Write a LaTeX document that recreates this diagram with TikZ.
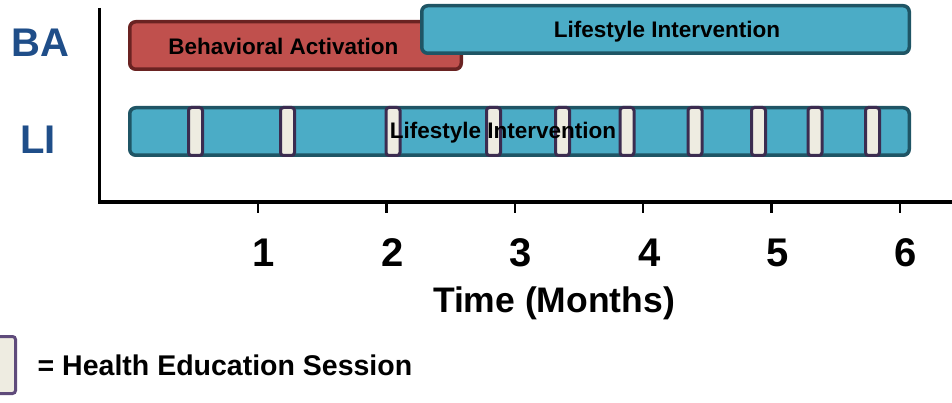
\documentclass[tikz,border=0pt]{standalone}
\usepackage{fontspec}
\setmainfont{Liberation Sans}
\definecolor{liblue}{HTML}{4BACC6}
\definecolor{libord}{HTML}{1F5565}
\definecolor{bared}{HTML}{C0504D}
\definecolor{babord}{HTML}{6A2322}
\definecolor{sessfill}{HTML}{EEECE1}
\definecolor{sessbord}{HTML}{3B2C50}
\definecolor{legbord}{HTML}{5F4B7B}
\definecolor{lblblue}{HTML}{1F4E89}
\begin{document}
\begin{tikzpicture}[x=1pt,y=-1pt,
  armbox/.style={draw, line width=3.5pt, rounded corners=6pt, inner sep=0pt, minimum height=47.5pt},
  libox/.style={armbox, draw=libord, fill=liblue},
  babox/.style={armbox, draw=babord, fill=bared},
  session/.style={draw=sessbord, fill=sessfill, line width=3pt, rounded corners=3pt, inner sep=0pt, minimum width=14pt, minimum height=48pt},
  boxtext/.style={font=\fontsize{22.5}{27}\selectfont\bfseries, inner sep=0pt, anchor=base},
  armlabel/.style={font=\fontsize{40}{48}\selectfont\bfseries, text=lblblue, inner sep=0pt, anchor=base},
  ticklabel/.style={font=\fontsize{40}{48}\selectfont\bfseries, inner sep=0pt, anchor=base},
  axistitle/.style={font=\fontsize{35.5}{42}\selectfont\bfseries, inner sep=0pt, anchor=base},
  legendtext/.style={font=\fontsize{28.5}{34}\selectfont\bfseries, inner sep=0pt, anchor=base west},
  axisline/.style={line width=3.5pt},
  tickmark/.style={line width=2.5pt}]
\useasboundingbox (0,0) rectangle (952,403);

% arm labels
\node[armlabel] (ba) at (40.5,56.5) {BA};
\node[armlabel] (li) at (38,153.3) {LI};

% axes
\coordinate (ytop) at (99.5,8);
\coordinate (xend) at (952,202);
\draw[axisline] (ytop) |- (xend);
\foreach \i in {1,...,6} {
  \coordinate (t\i) at ({258+128.4*(\i-1)},202);
  \draw[tickmark] (t\i) -- ++(0,11);
  \node[ticklabel] (l\i) at ({264+128.4*(\i-1)},266.5) {\i};
}
\node[axistitle] (xtitle) at (554,312.5) {Time (Months)};

% BA arm
\node[babox, minimum width=331.5pt] (babar) at (295.5,45.5) {};
\node[boxtext] (batext) at (283.3,54.3) {Behavioral Activation};
\node[libox, minimum width=487.5pt] (litop) at (665.5,29.5) {};
\node[boxtext] (litoptext) at (667,38) {Lifestyle Intervention};

% LI arm
\node[libox, minimum width=779.5pt] (libottom) at (519.5,131.5) {};
\foreach \x [count=\k] in {195.5,287.5,393,493.5,562.5,627,695,758.5,815,872.5} {
  \node[session] (s\k) at (\x,131.5) {};
}
\node[boxtext] (libottext) at (503,139) {Lifestyle Intervention};

% legend
\node[session, draw=legbord, minimum width=25pt, minimum height=57pt] (legendbox) at (3,365) {};
\node[legendtext] (legendlabel) at (37.5,375) {= Health Education Session};
\end{tikzpicture}
\end{document}
